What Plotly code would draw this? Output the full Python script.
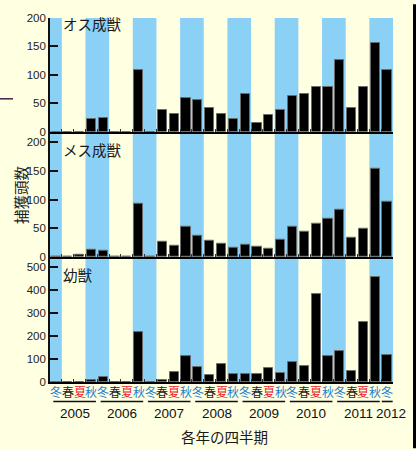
import plotly.graph_objects as go

# Quarterly capture counts, winter 2005 through winter 2012
years = [2005, 2006, 2007, 2008, 2009, 2010, 2011, 2012]
season_names = ["冬", "春", "夏", "秋"]
season_colors = {"冬": "#1f7fd0", "春": "#222222", "夏": "#e8202a", "秋": "#1f7fd0"}

male_adult = [0, 0, 0, 22, 24, 0, 0, 109, 0, 38, 31, 60, 56, 41, 31, 22,
              66, 16, 29, 38, 62, 66, 79, 78, 127, 41, 79, 156, 109]
female_adult = [0, 0, 4, 13, 11, 0, 0, 92, 0, 26, 20, 52, 37, 28, 24, 17,
                21, 18, 14, 30, 52, 44, 58, 66, 82, 33, 50, 153, 97]
juvenile = [0, 0, 0, 7, 23, 0, 0, 216, 0, 10, 43, 112, 63, 29, 79, 35,
            36, 36, 61, 38, 89, 69, 382, 115, 136, 48, 262, 458, 118]

panel_titles = ["オス成獣", "メス成獣", "幼獣"]

# quarter labels: four per year, the last year has only winter
quarter_labels = []
quarter_years = []
for y in years:
    n = 1 if y == years[-1] else 4
    for s in season_names[:n]:
        quarter_labels.append(s)
        quarter_years.append(y)
xs = list(range(len(quarter_labels)))

BG = "#ffffe2"
BAND = "#8bd1f5"
NARROW = "Liberation Sans Narrow, Arial Narrow, sans-serif"
JP = "Noto Sans CJK JP, sans-serif"

# plot area geometry in pixels (used to place paper-referenced items)
L, R, T, B = 50, 23, 14, 67
W, H = 416, 449
PW, PH = W - L - R, H - T - B


def px_x(px):
    return (px - L) / PW


def px_y(py):
    return (H - B - py) / PH


fig = go.Figure()
series = [male_adult, female_adult, juvenile]
for i, vals in enumerate(series):
    suffix = "" if i == 0 else str(i + 1)
    fig.add_trace(go.Bar(
        x=xs, y=vals, width=0.78,
        marker=dict(color="#000000", line=dict(color="#6a6a6a", width=1)),
        xaxis="x" + suffix, yaxis="y" + suffix, showlegend=False,
    ))

domains = [[px_y(129), 1.0], [px_y(255.7), px_y(129)], [0.0, px_y(255.7)]]
ranges = [[0, 200], [0, 218], [0, 545]]
dticks = [50, 50, 100]

layout = dict(
    width=W, height=H,
    margin=dict(l=L, r=R, t=T, b=B),
    paper_bgcolor=BG, plot_bgcolor=BG,
    bargap=0,
    font=dict(family=NARROW, size=12, color="#222222"),
)
for i in range(3):
    suffix = "" if i == 0 else str(i + 1)
    layout["xaxis" + suffix] = dict(
        range=[-0.5, len(xs) - 0.5], anchor="y" + suffix,
        showline=True, linecolor="#000000", linewidth=2,
        ticks="inside", ticklen=3, tickcolor="#333333",
        tickvals=[k - 0.5 for k in range(1, len(xs))],
        showticklabels=False, showgrid=False, zeroline=False,
        matches=None if i == 0 else "x",
    )
    layout["yaxis" + suffix] = dict(
        domain=domains[i], range=ranges[i], anchor="x" + suffix,
        showline=True, linecolor="#111111", linewidth=1.6,
        ticks="inside", ticklen=8, tickcolor="#111111", tickwidth=1.5,
        dtick=dticks[i], tick0=0, showgrid=False, zeroline=False,
        tickfont=dict(family=NARROW, size=11.5, color="#222222"),
    )
fig.update_layout(**layout)

shapes = []
# sky-blue bands spanning autumn and winter
band_starts = [0] + [k for k in range(3, len(xs), 4)]
for b in band_starts:
    x0 = b - 0.5
    x1 = x0 + (1 if b == 0 else 2)
    shapes.append(dict(type="rect", xref="x", yref="paper", x0=x0, x1=min(x1, len(xs) - 0.5),
                       y0=0, y1=1, fillcolor=BAND, line=dict(width=0), layer="below"))

annotations = []
# panel titles
title_py = [20, 147, 273]
for t, ty in zip(panel_titles, title_py):
    annotations.append(dict(text=t, x=px_x(61), y=px_y(ty), xref="paper", yref="paper",
                            xanchor="left", yanchor="middle", showarrow=False,
                            font=dict(family=JP, size=14.5, color="#1a1a1a")))

# quarter labels under the bottom panel
for x, q in zip(xs, quarter_labels):
    annotations.append(dict(text=q, x=x, y=px_y(392), xref="x3", yref="paper",
                            xanchor="center", yanchor="middle", showarrow=False,
                            font=dict(family=JP, size=12, color=season_colors[q])))

# year underlines and labels
for y in years:
    idx = [k for k, yy in enumerate(quarter_years) if yy == y]
    a, b = idx[0], idx[-1]
    single = len(idx) == 1
    x0 = a - 0.45 if single else a - 0.22
    x1 = b + 0.47 if single else b + 0.38
    shapes.append(dict(type="line", xref="x3", yref="paper", x0=x0, x1=x1,
                       y0=px_y(401.7), y1=px_y(401.7), line=dict(color="#111111", width=1.6)))
    cx = (x0 + x1) / 2 + (0.3 if single else 0)
    annotations.append(dict(text=str(y), x=cx, y=px_y(414), xref="x3", yref="paper",
                            xanchor="center", yanchor="middle", showarrow=False,
                            font=dict(family=NARROW, size=13.5, color="#111111")))

# axis titles
annotations.append(dict(text="各年の四半期", x=px_x(224), y=px_y(437), xref="paper", yref="paper",
                        xanchor="center", yanchor="middle", showarrow=False,
                        font=dict(family=JP, size=14.5, color="#1a1a1a")))
annotations.append(dict(text="捕獲頭数", x=px_x(20), y=px_y(193), xref="paper", yref="paper",
                        xanchor="center", yanchor="middle", showarrow=False, textangle=-90,
                        font=dict(family=JP, size=14.5, color="#1a1a1a")))

# frame details at the page edges
shapes.append(dict(type="line", xref="paper", yref="paper", x0=px_x(0), x1=px_x(13),
                   y0=px_y(95.7), y1=px_y(95.7), line=dict(color="#4a1a48", width=1.5)))
shapes.append(dict(type="line", xref="paper", yref="paper", x0=px_x(414.5), x1=px_x(414.5),
                   y0=px_y(H), y1=px_y(0), line=dict(color="#000000", width=3)))

fig.update_layout(shapes=shapes, annotations=annotations)
fig.write_html("out.html")
